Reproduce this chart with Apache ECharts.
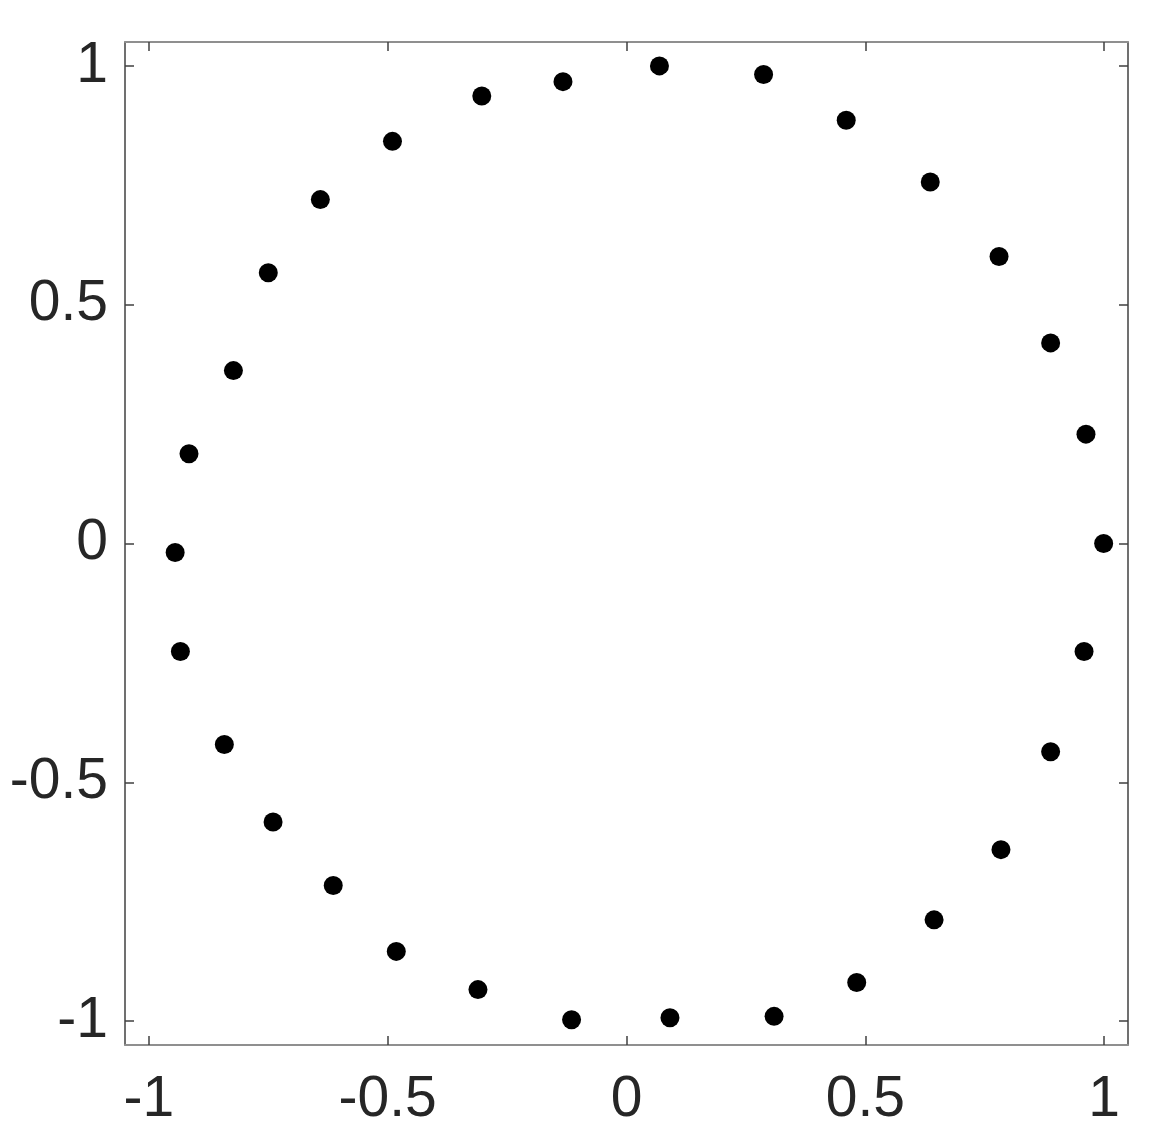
<!DOCTYPE html>
<html>
<head>
<meta charset="utf-8">
<script src="https://cdn.jsdelivr.net/npm/echarts@6/dist/echarts.min.js"></script>
<style>
  html, body { margin: 0; padding: 0; background: #fff; }
  #main { width: 1155px; height: 1145px; }
</style>
</head>
<body>
<div id="main"></div>
<script>
// points
const xValues = [0.069, 0.287, 0.460, 0.636, 0.780, 0.888, 0.962, 0.999, 0.958, 0.888,
  0.784, 0.644, 0.482, 0.309, 0.091, -0.115, -0.311, -0.482, -0.614, -0.740,
  -0.842, -0.934, -0.945, -0.916, -0.823, -0.750, -0.641, -0.490, -0.303, -0.133];
const yValues = [1.000, 0.982, 0.886, 0.757, 0.601, 0.420, 0.229, 0.000, -0.226, -0.436,
  -0.641, -0.788, -0.919, -0.990, -0.993, -0.997, -0.934, -0.854, -0.716, -0.583,
  -0.421, -0.226, -0.019, 0.188, 0.362, 0.567, 0.720, 0.842, 0.937, 0.967];
const tickValues = [-1, -0.5, 0, 0.5, 1];
const axisMin = -1.05;
const axisMax = 1.05;

const points = xValues.map((x, i) => [x, yValues[i]]);

const labelFont = { fontFamily: 'Liberation Sans, Arial, sans-serif', fontSize: 57, color: '#262626' };

function makeAxis(pos, show, horiz, margin) {
  return {
    type: 'value',
    position: pos,
    min: axisMin,
    max: axisMax,
    splitLine: { show: false },
    axisLine: { show: true, onZero: false, lineStyle: { color: horiz ? '#8f8f8f' : '#404040', width: horiz ? 2 : 1.5 } },
    axisTick: { show: true, inside: true, length: 9, customValues: tickValues, lineStyle: { color: '#404040', width: 1.5 } },
    axisLabel: Object.assign({ show: show, margin: margin || 8, customValues: tickValues }, labelFont)
  };
}

const chart = echarts.init(document.getElementById('main'));
chart.setOption({
  animation: false,
  backgroundColor: '#fff',
  grid: { left: 125, right: 27, top: 42, bottom: 100 },
  xAxis: [
    makeAxis('bottom', true, true, 27),
    makeAxis('top', false, true)
  ],
  yAxis: [
    makeAxis('left', true, false, 17),
    makeAxis('right', false, false)
  ],
  series: [{
    type: 'scatter',
    data: points,
    symbol: 'circle',
    symbolSize: 19,
    itemStyle: { color: '#000', opacity: 1 }
  }]
});
</script>
</body>
</html>
